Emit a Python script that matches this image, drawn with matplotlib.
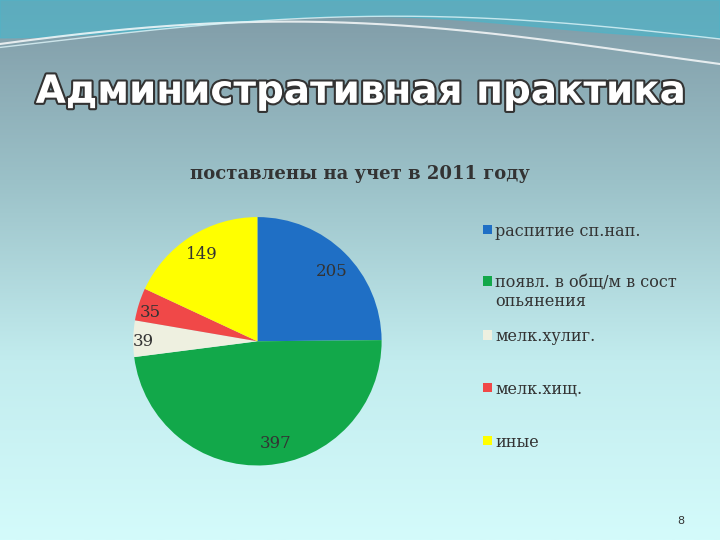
import numpy as np
import matplotlib.pyplot as plt
import matplotlib.patheffects as pe
from matplotlib.patches import Rectangle
from matplotlib.colors import LinearSegmentedColormap

labels = ["распитие сп.нап.", "появл. в общ/м в сост\nопьянения", "мелк.хулиг.", "мелк.хищ.", "иные"]
values = [205, 397, 39, 35, 149]
colors = ["#1f6fc5", "#12a84a", "#eef0e0", "#f04848", "#ffff00"]

fig = plt.figure(figsize=(7.2, 5.4), dpi=100)

# background gradient
bg = fig.add_axes([0, 0, 1, 1])
bg.axis("off")
grad = np.linspace(0, 1, 256).reshape(-1, 1)
cmap = LinearSegmentedColormap.from_list("bg", ["#7f9aa6", "#9bc1c8", "#c2ecee", "#d4fbfb"])
bg.imshow(grad, aspect="auto", cmap=cmap, extent=[0, 1, 0, 1], origin="upper")
# wavy decoration at top
x = np.linspace(0, 1, 300)
bg.fill_between(x, 1, 0.93 + 0.04 * np.sin(np.pi * x) ** 2, color="#4fb4c8", alpha=0.7)
bg.plot(x, 0.9 + 0.06 * np.sin(np.pi * (x + 0.1)), color="white", lw=1.5, alpha=0.8)
bg.plot(x, 0.92 + 0.05 * np.sin(np.pi * (x - 0.05)), color="#dff6fa", lw=1, alpha=0.8)
bg.set_xlim(0, 1)
bg.set_ylim(0, 1)

fig.text(0.5, 0.83, "Административная практика", ha="center", va="center",
         fontsize=28, fontweight="bold", color="white", family="DejaVu Sans",
         path_effects=[pe.withStroke(linewidth=3, foreground="#333333")])
fig.text(0.5, 0.677, "поставлены на учет в 2011 году", ha="center", va="center",
         fontsize=13, fontweight="bold", color="#333333", family="DejaVu Serif")

ax = fig.add_axes([0.185, 0.138, 0.345, 0.46])
wedges, _ = ax.pie(values, colors=colors, startangle=90, counterclock=False,
                   wedgeprops=dict(linewidth=0))
ax.set_xlim(-1, 1)
ax.set_ylim(-1, 1)
ax.set_aspect("equal")
pos = [(0.6, 0.56), (0.15, -0.82), (-0.92, 0.0), (-0.86, 0.23), (-0.45, 0.7)]
for (px, py), v in zip(pos, values):
    ax.text(px, py, str(v), ha="center", va="center", fontsize=12,
            color="#333333", family="DejaVu Serif")

ly = [0.575, 0.48, 0.38, 0.283, 0.185]
for lab, c, y in zip(labels, colors, ly):
    fig.patches.append(Rectangle((0.671, y - 0.009), 0.013, 0.017, facecolor=c,
                                 transform=fig.transFigure, figure=fig))
    fig.text(0.688, y + 0.012, lab, ha="left", va="top",
             fontsize=11.5, color="#333333", family="DejaVu Serif", linespacing=1.1)

fig.text(0.945, 0.03, "8", ha="center", fontsize=8, color="#333333")
fig.savefig("out.png", dpi=100)
